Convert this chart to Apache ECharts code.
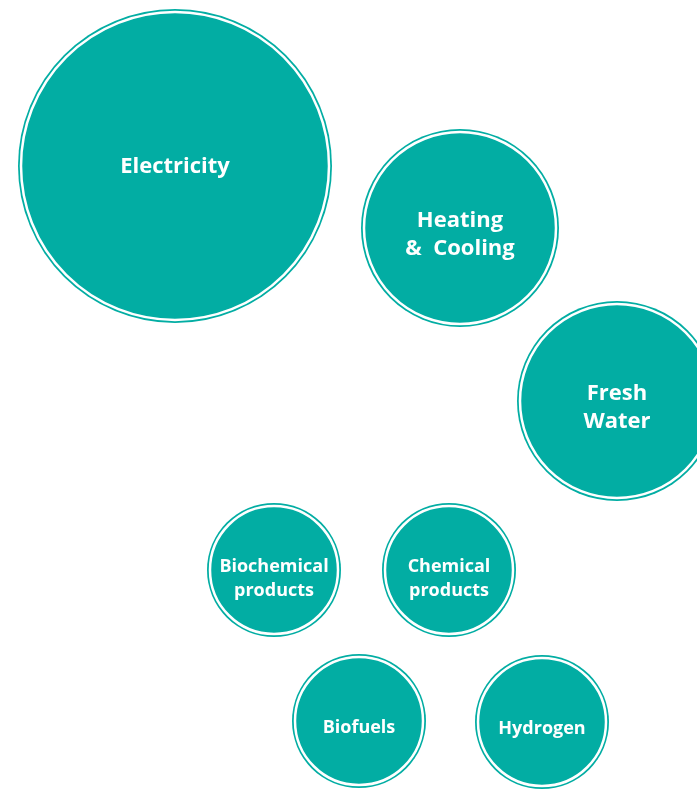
<!DOCTYPE html>
<html>
<head>
<meta charset="utf-8">
<script src="https://cdn.jsdelivr.net/npm/echarts@6/dist/echarts.min.js"></script>
<style>
  html, body { margin: 0; padding: 0; background: #fff; }
  #chart { width: 697px; height: 790px; }
</style>
</head>
<body>
<div id="chart"></div>
<script>
// bubble names, centres (in a 697 x 790 plane, y measured down) and relative sizes
const names = ['Electricity', 'Heating\n&  Cooling', 'Fresh\nWater', 'Biochemical\nproducts', 'Chemical\nproducts', 'Biofuels', 'Hydrogen']
const xs = [175, 460, 617, 274, 449, 359, 542]
const ys = [166, 228, 401, 570, 570, 721, 722]
const sizes = [157, 99, 100, 67, 67, 67, 67]

const teal = '#02ADA3'

const points = names.map((n, i) => ({
  name: n,
  value: [xs[i], ys[i], sizes[i]],
  label: {
    fontSize: sizes[i] > 90 ? 22 : 18,
    lineHeight: sizes[i] > 90 ? 28 : 24
  }
}))

const myChart = echarts.init(document.getElementById('chart'))
const option = {
  animation: false,
  grid: { left: 0, right: 0, top: 0, bottom: 0 },
  xAxis: { type: 'value', min: 0, max: 697, show: false },
  yAxis: { type: 'value', min: 0, max: 790, inverse: true, show: false },
  series: [
    {
      // outer thin ring
      type: 'scatter',
      clip: false,
      silent: true,
      data: points.map(p => ({ name: p.name, value: p.value })),
      symbolSize: function (v) { return v[2] * 2 },
      itemStyle: { color: teal, opacity: 1 }
    },
    {
      // inner disc with white gap
      type: 'scatter',
      clip: false,
      data: points,
      symbolSize: function (v) { return v[2] * 2 - 6 },
      itemStyle: { color: teal, borderColor: '#fff', borderWidth: 2.5, opacity: 1 },
      label: {
        show: true,
        position: 'inside',
        formatter: function (p) { return p.name },
        color: '#fff',
        fontFamily: 'Open Sans',
        fontWeight: 'bold'
      },
      labelLayout: function (params) {
        const i = params.dataIndex
        const twoLines = names[i].indexOf('\n') > 0
        const big = sizes[i] > 90
        let dy
        if (big) dy = twoLines ? 7 : 1
        else dy = twoLines ? 9 : 7
        return { dy: dy }
      }
    }
  ]
}
myChart.setOption(option)
window.addEventListener('resize', function () {
  myChart.resize()
})
</script>
</body>
</html>
